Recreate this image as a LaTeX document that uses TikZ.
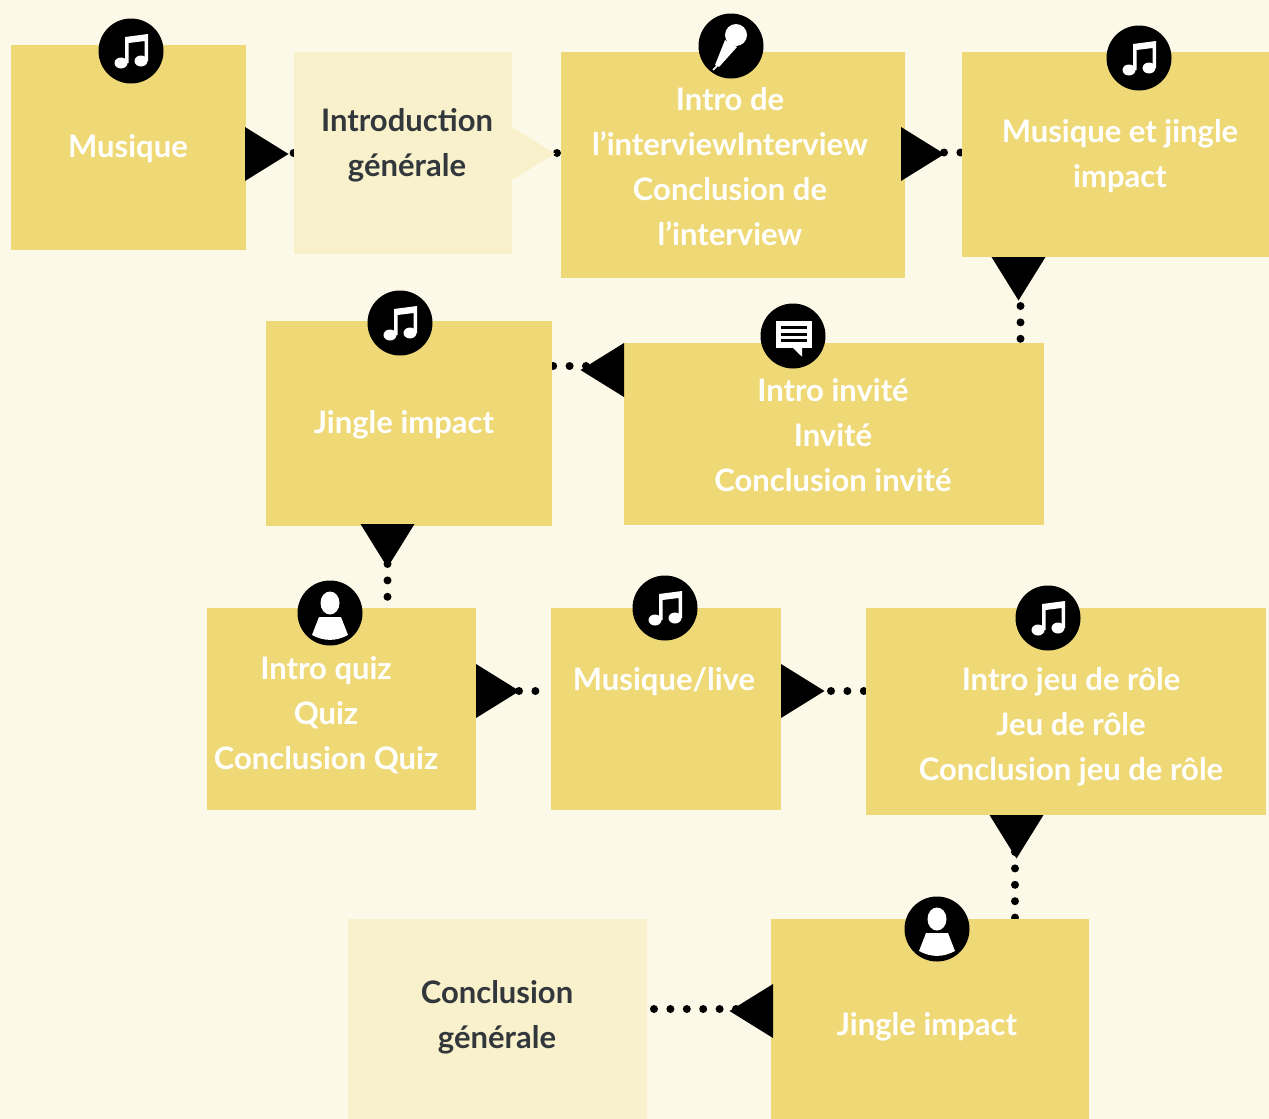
\documentclass[tikz,border=0pt]{standalone}
\usepackage{fontspec}
\setmainfont{Lato}
\usetikzlibrary{backgrounds}
\definecolor{pagebg}{HTML}{FDF9E9}
\definecolor{boxfill}{HTML}{EED976}
\definecolor{palefill}{HTML}{F9F1CB}
\definecolor{darktext}{HTML}{32373B}
\tikzset{
  box/.style={fill=boxfill,inner sep=0pt,outer sep=0pt},
  palebox/.style={fill=palefill,inner sep=0pt,outer sep=0pt},
  boxtext/.style={align=center,text=white,font=\fontsize{31}{45}\selectfont\bfseries},
  paletext/.style={boxtext,text=darktext},
  flowdots/.style={line width=8pt,line cap=round,dash pattern=on 0pt off 16.4pt},
  icon/.style={circle,fill=black,minimum size=65pt,inner sep=0pt},
  musicnote/.pic={
    \fill[white] (-6,-14) -- (17,-17) -- (17,10) -- (13.5,10) -- (13.5,-10) -- (-2.5,-8) -- (-2.5,12) -- (-6,12) -- cycle;
    \fill[white] (-10,12) ellipse (6.5 and 5.5);
    \fill[white] (10,10) ellipse (6.5 and 5.5);
  },
  micro/.pic={
    \fill[white] (5,-11) circle (11);
    \fill[white] (-6,-6) -- (6,1) -- (-12,21) -- (-16,19) -- cycle;
    \draw[white,line width=1.5pt] (-14,20) -- (-18,24);
  },
  speech/.pic={
    \fill[white] (-17.3,-15.3) rectangle (18.7,12.3);
    \fill[white] (0,12) -- (9,20.7) -- (9,12) -- cycle;
    \fill[black] (-12,-10.5) rectangle (14,-7.5);
    \fill[black] (-12,-3.5) rectangle (14,-0.5);
    \fill[black] (-12,3.2) rectangle (14,6.2);
  },
  person/.pic={
    \fill[white] (0,-10) ellipse (9.5 and 11.5);
    \fill[white] (-11,4) -- (11,4) -- (18,22) .. controls (6,28.5) and (-6,28.5) .. (-18,22) -- cycle;
  }
}
\newcommand{\flowtip}[2]{\fill[black,shift={(#1)},rotate=#2] (0,-27) -- (43.5,0) -- (0,27) -- cycle;}
\begin{document}
\begin{tikzpicture}[x=1pt,y=-1pt]
\useasboundingbox (0,0) rectangle (1269,1119);
\node[box,minimum width=235pt,minimum height=205pt] (musique) at (128.5,147.5) {};
\node[palebox,minimum width=218pt,minimum height=202pt] (intro) at (403,153) {};
\fill[palefill] (intro.east |- 0,127) -- (555,153.5) -- (intro.east |- 0,180) -- cycle;
\node[box,minimum width=344pt,minimum height=226pt] (interview) at (733,165) {};
\node[box,minimum width=307pt,minimum height=205pt] (jingle) at (1115.5,154.5) {};
\node[box,minimum width=286pt,minimum height=205pt] (impact) at (409,423.5) {};
\node[box,minimum width=420pt,minimum height=182pt] (invite) at (834,434) {};
\node[box,minimum width=269pt,minimum height=202pt] (quiz) at (341.5,709) {};
\node[box,minimum width=230pt,minimum height=202pt] (live) at (666,709) {};
\node[box,minimum width=400pt,minimum height=207pt] (jeu) at (1066,711.5) {};
\node[box,minimum width=318pt,minimum height=200pt] (impactb) at (930,1019) {};
\node[palebox,minimum width=299pt,minimum height=200pt] (conclusion) at (497.5,1019) {};

\node[boxtext] (musiquetxt) at (128,149) {Musique};
\node[paletext] (introtxt) at (407,145.5) {Introduction\\générale};
\node[boxtext] (interviewtxt) at (730,166.5) {Intro de\\l’interviewInterview\\Conclusion de\\l’interview};
\node[boxtext] (jingletxt) at (1120,156.5) {Musique et jingle\\impact};
\node[boxtext] (impacttxt) at (404,425) {Jingle impact};
\node[boxtext] (invitetxt) at (833,435) {Intro invité\\Invité\\Conclusion invité};
\node[boxtext] (quiztxt) at (326,715.5) {Intro quiz\\Quiz\\Conclusion Quiz};
\node[boxtext] (livetxt) at (664,682) {Musique/live};
\node[boxtext] (jeutxt) at (1071,727) {Intro jeu de rôle\\Jeu de rôle\\Conclusion jeu de rôle};
\node[boxtext] (impactbtxt) at (927,1027) {Jingle impact};
\node[paletext] (conclusiontxt) at (497,1017.5) {Conclusion\\générale};

\coordinate (tipa) at (245,154);
\coordinate (tipb) at (901,154);
\coordinate (tipc) at (1018.5,257);
\coordinate (tipd) at (624,370);
\coordinate (tipe) at (387.5,524);
\coordinate (tipf) at (476,691);
\coordinate (tipg) at (781,691);
\coordinate (tiph) at (1016.5,815);
\coordinate (tipi) at (773,1011);
\flowtip{tipa}{0}
\flowtip{tipb}{0}
\flowtip{tipc}{-90}
\flowtip{tipd}{180}
\flowtip{tipe}{-90}
\flowtip{tipf}{0}
\flowtip{tipg}{0}
\flowtip{tiph}{-90}
\flowtip{tipi}{180}

\begin{scope}[on background layer]
\fill[pagebg] (0,0) rectangle (1269,1119);
\coordinate (dotsa) at (293.6,153);
\coordinate (dotsj) at (557,153);
\coordinate (dotsb) at (944,152.5);
\coordinate (dotsc) at (1020.5,306);
\coordinate (dotsd) at (586,366);
\coordinate (dotse) at (387.5,564);
\coordinate (dotsf) at (519,691);
\coordinate (dotsg) at (831,691);
\coordinate (dotsh) at (1015,852);
\coordinate (dotsi) at (736,1009);
\draw[flowdots] (dotsa) -- (intro.west |- dotsa);
\draw[flowdots] (dotsj) -- (interview.west |- dotsj);
\draw[flowdots] (dotsb) -- (jingle.west |- dotsb);
\draw[flowdots] (dotsc) -- (invite.north -| dotsc);
\draw[flowdots] (dotsd) -- (impact.east |- dotsd);
\draw[flowdots] (dotse) -- (quiz.north -| dotse);
\draw[flowdots] (dotsf) -- (live.west |- dotsf);
\draw[flowdots] (dotsg) -- (jeu.west |- dotsg);
\draw[flowdots] (dotsh) -- (impactb.north -| dotsh);
\draw[flowdots] (dotsi) -- (conclusion.east |- dotsi);
\end{scope}

\node[icon] (iconmusique) at (131,51) {};
\pic at (iconmusique) {musicnote};
\node[icon] (iconinterview) at (731,46) {};
\pic at (iconinterview) {micro};
\node[icon] (iconjingle) at (1139,58) {};
\pic at (iconjingle) {musicnote};
\node[icon] (iconimpact) at (400,323) {};
\pic at (iconimpact) {musicnote};
\node[icon] (iconinvite) at (793,336) {};
\pic at (iconinvite) {speech};
\node[icon] (iconquiz) at (330,613) {};
\pic at (iconquiz) {person};
\node[icon] (iconlive) at (665,608) {};
\pic at (iconlive) {musicnote};
\node[icon] (iconjeu) at (1048,618) {};
\pic at (iconjeu) {musicnote};
\node[icon] (iconimpactb) at (937,929) {};
\pic at (iconimpactb) {person};
\end{tikzpicture}
\end{document}
